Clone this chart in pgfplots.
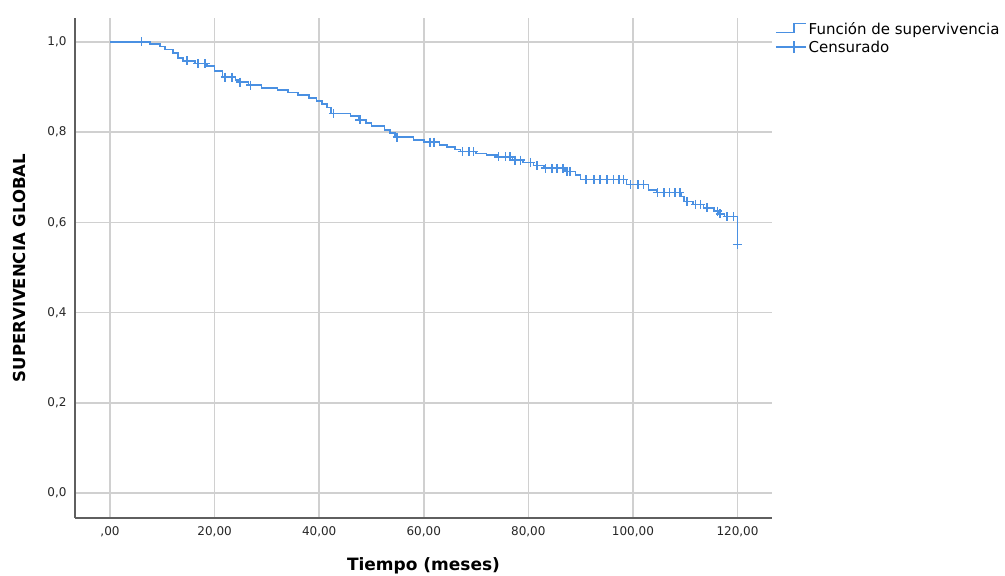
\documentclass[border=0pt]{standalone}
\usepackage{fontspec}
\setmainfont{DejaVu Sans}
\usepackage{pgfplots}
\usepackage{pgfplotstable}
\pgfplotsset{compat=1.18}
\definecolor{kmblue}{RGB}{74,144,226}
\definecolor{gridgray}{RGB}{208,208,208}
\definecolor{axgray}{RGB}{95,95,95}
\pgfplotstableread{
t s
0 1.000
7.6 0.995
9.5 0.990
10.5 0.983
12 0.975
13 0.965
14 0.958
16.2 0.952
18.5 0.946
20 0.935
21.5 0.922
24 0.916
24.5 0.911
26.5 0.904
29 0.898
32 0.893
34 0.888
36 0.882
38 0.876
39.5 0.869
40.5 0.862
41.5 0.855
42.3 0.841
46 0.836
47.5 0.827
49 0.820
50 0.814
52.5 0.805
53.5 0.798
54.5 0.789
58 0.783
60 0.778
63 0.772
64.5 0.767
66 0.762
67 0.757
70 0.753
72 0.749
74 0.745
77 0.738
79 0.733
81 0.726
83 0.720
87 0.713
89 0.705
90 0.695
98.8 0.684
103 0.672
104.5 0.666
109.3 0.657
109.8 0.646
111.5 0.640
113.5 0.632
115.5 0.625
116.5 0.619
117.5 0.613
120 0.551
}\survival
\pgfplotstableread{
t s
6 1.000
14.7 0.958
16.8 0.952
18.2 0.952
22 0.922
23.3 0.922
24.9 0.911
26.9 0.904
42.7 0.841
47.8 0.827
54.9 0.789
61.2 0.778
62 0.778
67.4 0.757
68.6 0.757
69.5 0.757
74.3 0.745
75.6 0.745
76.5 0.745
77.5 0.738
78.5 0.738
80.4 0.733
81.7 0.726
83.3 0.720
84.5 0.720
85.5 0.720
86.6 0.720
87.4 0.713
88 0.713
91 0.695
92.5 0.695
93.7 0.695
95 0.695
96.3 0.695
97.3 0.695
98.2 0.695
99.5 0.684
101 0.684
102 0.684
104.7 0.666
106 0.666
107 0.666
108 0.666
109 0.666
110.4 0.646
112 0.640
112.9 0.640
114.2 0.632
116.2 0.625
116.7 0.619
118 0.613
119.2 0.613
120 0.551
}\censored
\begin{document}
\begin{tikzpicture}[x=1pt,y=1pt]
\useasboundingbox (0,0) rectangle (1005,576);
\begin{axis}[
  at={(75pt,58pt)}, anchor=south west,
  scale only axis, width=697pt, height=500pt,
  xmin=-6.7, xmax=126.6, ymin=-0.055, ymax=1.053,
  axis x line*=bottom, axis y line*=left,
  axis line style={axgray, line width=1.4pt},
  xtick={0,20,40,60,80,100,120},
  xticklabels={{,00},{20,00},{40,00},{60,00},{80,00},{100,00},{120,00}},
  ytick={0,0.2,0.4,0.6,0.8,1.0},
  yticklabels={{0,0},{0,2},{0,4},{0,6},{0,8},{1,0}},
  grid=major, major grid style={gridgray, line width=1.5pt},
  major tick length=0pt, tick style={draw=none},
  tick label style={font=\fontsize{12}{14}\selectfont, text=black!85},
  xticklabel style={yshift=-5pt},
  yticklabel style={xshift=-5pt},
  xlabel={\textbf{Tiempo (meses)}},
  ylabel={\textbf{SUPERVIVENCIA GLOBAL}},
  xlabel style={at={(axis description cs:0.5,-0.096)}, anchor=center, font=\fontsize{17}{19}\selectfont},
  ylabel style={at={(axis description cs:-0.079,0.5)}, anchor=center, font=\fontsize{16.5}{19}\selectfont},
  legend style={at={(axis description cs:1.0,1.0)}, anchor=north west, draw=none, fill=none,
    font=\fontsize{15}{16}\selectfont, inner sep=0pt, row sep=0.5pt, xshift=3pt, yshift=-2.5pt},
  legend cell align=left,
]
\addplot[const plot, kmblue, line width=1.6pt,
  legend image code/.code={\draw[kmblue, line width=1.5pt] (0pt,-3pt) -- (18pt,-3pt) -- (18pt,6pt) -- (30pt,6pt);}]
  table[x=t, y=s] {\survival};
\addlegendentry{Función de supervivencia}
\addplot[only marks, mark=+, mark size=4.5pt, kmblue, mark options={line width=1.6pt},
  legend image code/.code={\draw[kmblue, line width=1.5pt] (0pt,0pt) -- (30pt,0pt); \draw[kmblue, line width=1.5pt] (18pt,-6pt) -- (18pt,6pt);}]
  table[x=t, y=s] {\censored};
\addlegendentry{Censurado}
\end{axis}
\end{tikzpicture}
\end{document}
